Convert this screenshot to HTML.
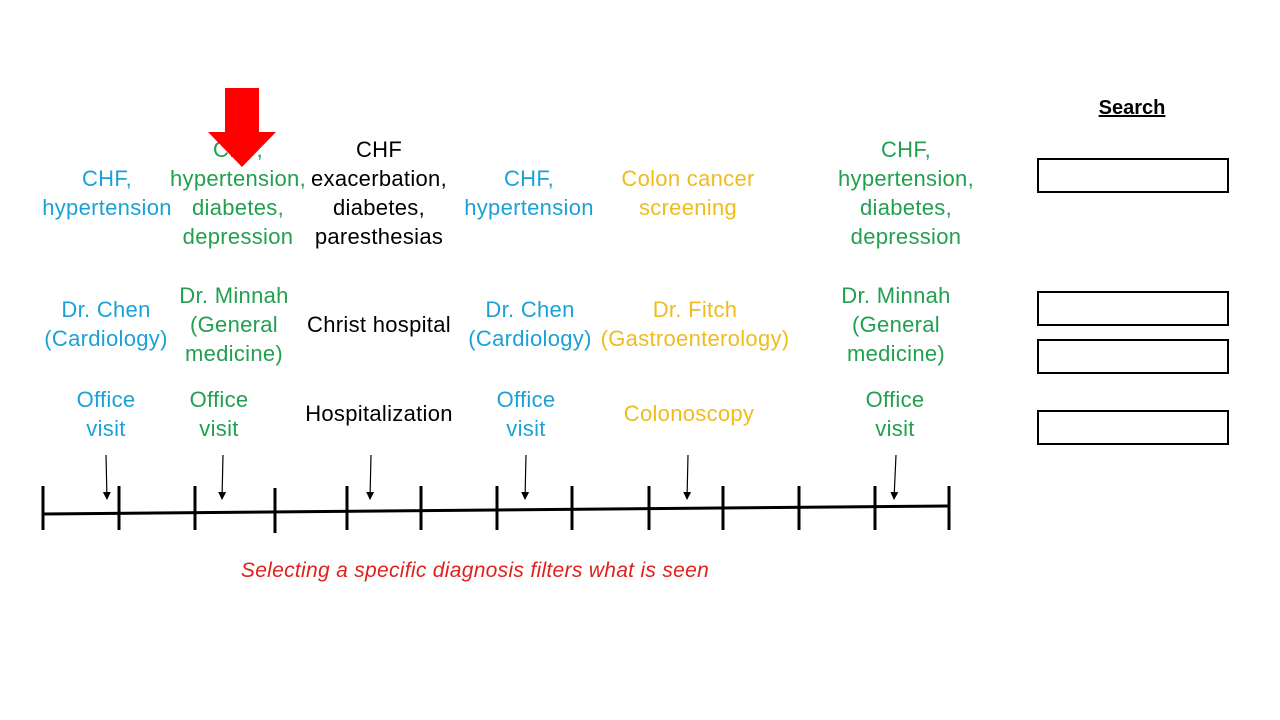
<!DOCTYPE html>
<html><head><meta charset="utf-8"><style>
body{margin:0;width:1280px;height:720px;background:#fff;position:relative;overflow:hidden;font-family:"Liberation Sans",sans-serif}
.t{position:absolute;width:220px;text-align:center;font-size:22px;letter-spacing:0.3px;line-height:29px;white-space:nowrap}
.b{color:#1aa2d8}.g{color:#22a050}.y{color:#f0bc1c}.k{color:#000}
.box{position:absolute;left:1037px;width:188px;height:31px;border:2px solid #000}
</style></head><body>
<div class="t k" style="left:1022px;top:94px;font-size:20px;letter-spacing:0;font-weight:bold;text-decoration:underline">Search</div>
<div class="box" style="top:158px"></div>
<div class="box" style="top:291px"></div>
<div class="box" style="top:339px"></div>
<div class="box" style="top:410px"></div>

<div class="t b" style="left:-3px;top:164px">CHF,<br>hypertension</div>
<div class="t g" style="left:128px;top:135px">CHF,<br>hypertension,<br>diabetes,<br>depression</div>
<div class="t k" style="left:269px;top:135px">CHF<br>exacerbation,<br>diabetes,<br>paresthesias</div>
<div class="t b" style="left:419px;top:164px">CHF,<br>hypertension</div>
<div class="t y" style="left:578px;top:164px">Colon cancer<br>screening</div>
<div class="t g" style="left:796px;top:135px">CHF,<br>hypertension,<br>diabetes,<br>depression</div>

<div class="t b" style="left:-4px;top:295px">Dr. Chen<br>(Cardiology)</div>
<div class="t g" style="left:124px;top:281px">Dr. Minnah<br>(General<br>medicine)</div>
<div class="t k" style="left:269px;top:310px">Christ hospital</div>
<div class="t b" style="left:420px;top:295px">Dr. Chen<br>(Cardiology)</div>
<div class="t y" style="left:585px;top:295px">Dr. Fitch<br>(Gastroenterology)</div>
<div class="t g" style="left:786px;top:281px">Dr. Minnah<br>(General<br>medicine)</div>

<div class="t b" style="left:-4px;top:385px">Office<br>visit</div>
<div class="t g" style="left:109px;top:385px">Office<br>visit</div>
<div class="t k" style="left:269px;top:399px">Hospitalization</div>
<div class="t b" style="left:416px;top:385px">Office<br>visit</div>
<div class="t y" style="left:579px;top:399px">Colonoscopy</div>
<div class="t g" style="left:785px;top:385px">Office<br>visit</div>

<div style="position:absolute;left:0;width:950px;top:559px;text-align:center;font-size:21px;letter-spacing:0.3px;font-style:italic;color:#e0201b">Selecting a specific diagnosis filters what is seen</div>

<svg width="1280" height="720" style="position:absolute;left:0;top:0">
<defs><marker id="a" markerWidth="8" markerHeight="8" refX="7" refY="4" orient="auto" markerUnits="userSpaceOnUse"><path d="M0,0 L8,4 L0,8 z" fill="#000"/></marker></defs>
<line x1="43" y1="514" x2="949" y2="506" stroke="#000" stroke-width="3"/>
<g stroke="#000" stroke-width="3">
<line x1="43" y1="486" x2="43" y2="530"/><line x1="119" y1="486" x2="119" y2="530"/>
<line x1="195" y1="486" x2="195" y2="530"/><line x1="275" y1="488" x2="275" y2="533"/>
<line x1="347" y1="486" x2="347" y2="530"/><line x1="421" y1="486" x2="421" y2="530"/>
<line x1="497" y1="486" x2="497" y2="530"/><line x1="572" y1="486" x2="572" y2="530"/>
<line x1="649" y1="486" x2="649" y2="530"/><line x1="723" y1="486" x2="723" y2="530"/>
<line x1="799" y1="486" x2="799" y2="530"/><line x1="875" y1="486" x2="875" y2="530"/>
<line x1="949" y1="486" x2="949" y2="530"/>
</g>
<g stroke="#000" stroke-width="1.2" marker-end="url(#a)">
<line x1="106" y1="455" x2="107" y2="499"/><line x1="223" y1="455" x2="222" y2="499"/>
<line x1="371" y1="455" x2="370" y2="499"/><line x1="526" y1="455" x2="525" y2="499"/>
<line x1="688" y1="455" x2="687" y2="499"/><line x1="896" y1="455" x2="894" y2="499"/>
</g>
<polygon points="225,88 259,88 259,132 276,132 242,167 208,132 225,132" fill="#ff0000"/>
</svg>
</body></html>
